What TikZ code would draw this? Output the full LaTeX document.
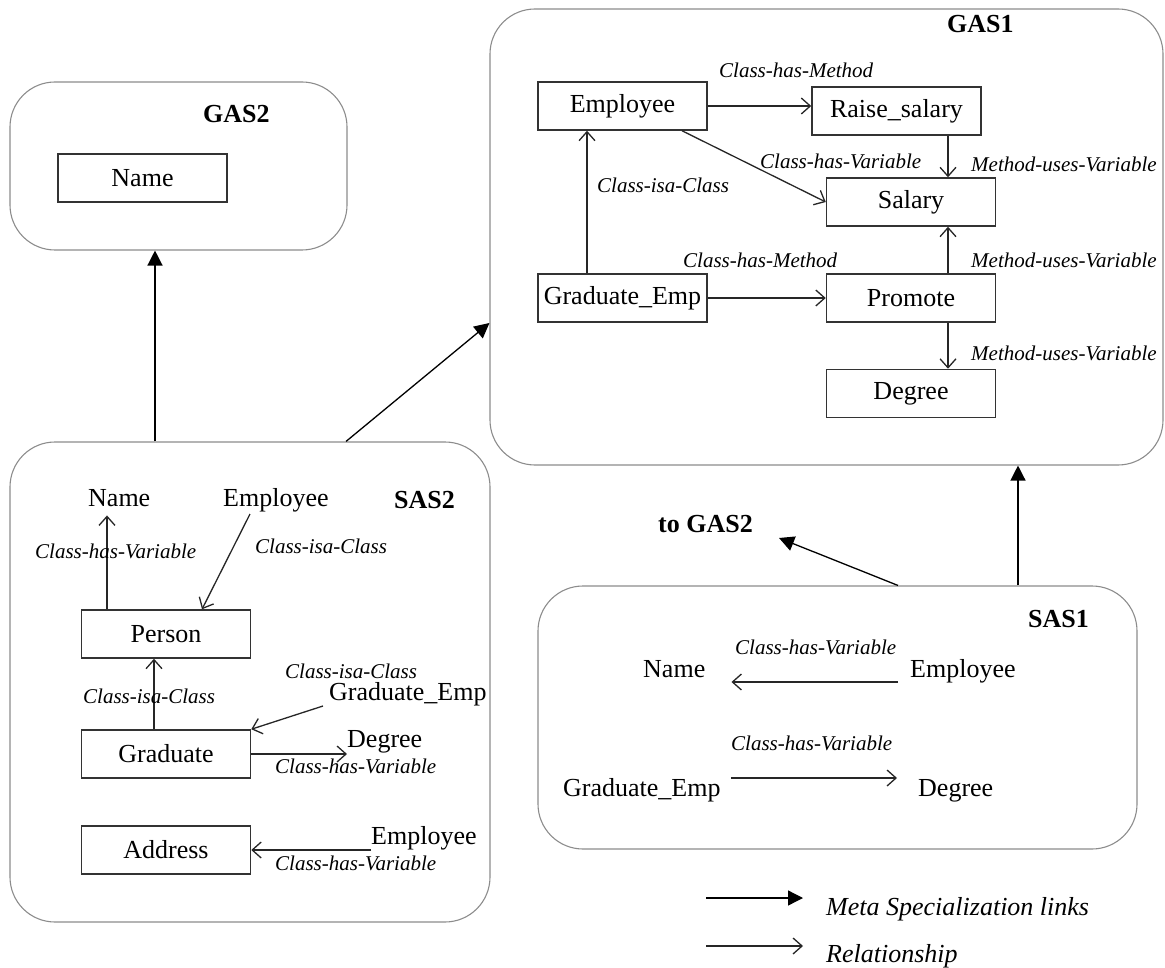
\documentclass[tikz,border=0pt]{standalone}
\usepackage{fontspec}
\setmainfont{Liberation Serif}
\usetikzlibrary{arrows.meta,calc}

\begin{document}
\begin{tikzpicture}[x=1pt,y=-1pt,
  container/.style={draw=black!45, line width=1.1pt, rounded corners=45pt, inner sep=0pt},
  cbox/.style={draw=black!80, line width=1.5pt, minimum width=169pt, minimum height=48pt,
    inner sep=0pt, font=\fontsize{26}{30}\selectfont},
  termtext/.style={inner sep=0pt, anchor=base west, font=\fontsize{26}{30}\selectfont},
  cname/.style={inner sep=0pt, anchor=base west, font=\fontsize{26}{30}\selectfont\bfseries},
  rlabel/.style={inner sep=0pt, anchor=base west, font=\fontsize{21}{25}\selectfont\itshape},
  legendtext/.style={inner sep=0pt, anchor=base west, font=\fontsize{26}{30}\selectfont\itshape},
  rellink/.style={draw=black!85, line width=1.3pt,
    -{Straight Barb[length=9pt,width=16pt,line width=1.3pt]}},
  metalink/.style={draw=black, line width=1.3pt, -{Triangle[length=15pt,width=15pt]}},
]
\useasboundingbox (0,0) rectangle (1165,968);

% ---------- the four abstraction spaces ----------
\node[container, minimum width=337pt, minimum height=168pt] (gas2) at (178.5,166) {};
\node[container, minimum width=673pt, minimum height=456pt] (gas1) at (826.5,237) {};
\node[container, minimum width=480pt, minimum height=480pt] (sas2) at (250,682) {};
\node[container, minimum width=599pt, minimum height=263pt] (sas1) at (837.5,717.5) {};

% ---------- GAS2 ----------
\node[cname] (gas2t) at (203,123) {GAS2};
\node[cbox] (g2name) at (142.5,178) {Name};

% ---------- GAS1 ----------
\node[cname] (gas1t) at (947,33) {GAS1};
\node[cbox] (g1emp) at (622.5,106) {Employee};
\node[cbox] (g1rs)  at (896.5,111) {Raise\_salary};
\node[cbox] (g1sal) at (911,202) {Salary};
\node[cbox] (g1ge)  at (622.5,298) {Graduate\_Emp};
\node[cbox] (g1pro) at (911,298) {Promote};
\node[cbox] (g1deg) at (911,393.5) {Degree};

\coordinate (vA) at (948,0);
\coordinate (vB) at (587,0);
\draw[rellink] (g1emp.east) -- (g1emp.east -| g1rs.west);
\draw[rellink] ($(g1emp.south)+(59.5,0)$) -- (g1sal.west);
\draw[rellink] (vA |- g1rs.south) -- (vA |- g1sal.north);
\draw[rellink] (vB |- g1ge.north) -- (vB |- g1emp.south);
\draw[rellink] (g1ge.east) -- (g1pro.west);
\draw[rellink] (vA |- g1pro.north) -- (vA |- g1sal.south);
\draw[rellink] (vA |- g1pro.south) -- (vA |- g1deg.north);

\node[rlabel] at (719,78)  {Class-has-Method};
\node[rlabel] at (760,169) {Class-has-Variable};
\node[rlabel] at (971,172) {Method-uses-Variable};
\node[rlabel] at (597,193) {Class-isa-Class};
\node[rlabel] at (683,268) {Class-has-Method};
\node[rlabel] at (971,268) {Method-uses-Variable};
\node[rlabel] at (971,361) {Method-uses-Variable};

% ---------- SAS2 ----------
\node[cname] (sas2t) at (394,508) {SAS2};
\node[termtext] (s2name) at (88,506)  {Name};
\node[termtext] (s2emp)  at (223,506) {Employee};
\node[cbox] (s2per)  at (166,634) {Person};
\node[cbox] (s2grad) at (166,754) {Graduate};
\node[cbox] (s2addr) at (166,850) {Address};
\node[termtext] (s2ge)   at (329,700) {Graduate\_Emp};
\node[termtext] (s2deg)  at (347,747) {Degree};
\node[termtext] (s2emp2) at (371,844) {Employee};

\coordinate (vC) at (107,0);
\coordinate (vD) at (154,0);
\draw[rellink] (vC |- s2per.north) -- ($(vC |- s2name.south)+(0,9)$);
\draw[rellink] ($(s2emp.base west)+(27,8)$) -- ($(s2per.north)+(36,0)$);
\draw[rellink] (vD |- s2grad.north) -- (vD |- s2per.south);
\draw[rellink] ($(s2ge.base west)+(-6,6)$) -- (s2grad.north east);
\draw[rellink] (s2grad.east) -- (s2grad.east -| s2deg.west);
\draw[rellink] (s2addr.east -| s2emp2.west) -- (s2addr.east);

\node[rlabel] at (35,558)  {Class-has-Variable};
\node[rlabel] at (255,553) {Class-isa-Class};
\node[rlabel] at (285,678) {Class-isa-Class};
\node[rlabel] at (83,703)  {Class-isa-Class};
\node[rlabel] at (275,773) {Class-has-Variable};
\node[rlabel] at (275,870) {Class-has-Variable};

% ---------- SAS1 ----------
\node[cname] (sas1t) at (1028,627) {SAS1};
\node[rlabel] at (735,654) {Class-has-Variable};
\node[termtext] (s1name) at (643,677) {Name};
\node[termtext] (s1emp)  at (910,677) {Employee};
\node[rlabel] at (731,750) {Class-has-Variable};
\node[termtext] (s1ge)   at (563,796) {Graduate\_Emp};
\node[termtext] (s1deg)  at (918,796) {Degree};

\draw[rellink] ($(s1emp.base west)+(-12,5)$) -- ($(s1name.base east)+(26,5)$);
\draw[rellink] ($(s1ge.base east)+(10,-18)$) -- ($(s1deg.base west)+(-21,-18)$);

% ---------- meta specialization links ----------
\node[cname] (tog) at (658,532) {to GAS2};
\draw[metalink] ($(sas2.north)+(-95,0)$) -- ($(gas2.south)+(-23.5,0)$);
\draw[metalink] ($(sas2.north)+(96,0)$) -- ($(gas1.west)+(0,86)$);
\draw[metalink] ($(sas1.north)+(180.5,0)$) -- ($(gas1.south)+(191.5,0)$);
\draw[metalink] ($(sas1.north)+(60.5,0)$) -- ($(tog.base east)+(26,6)$);

% ---------- legend ----------
\coordinate (l1a) at (706,898);
\coordinate (l1b) at (803,898);
\coordinate (l2a) at (706,946);
\coordinate (l2b) at (803,946);
\draw[metalink] (l1a) -- (l1b);
\draw[rellink] (l2a) -- (l2b);
\node[legendtext] at (826,915) {Meta Specialization links};
\node[legendtext] at (826,962) {Relationship};
\end{tikzpicture}
\end{document}
